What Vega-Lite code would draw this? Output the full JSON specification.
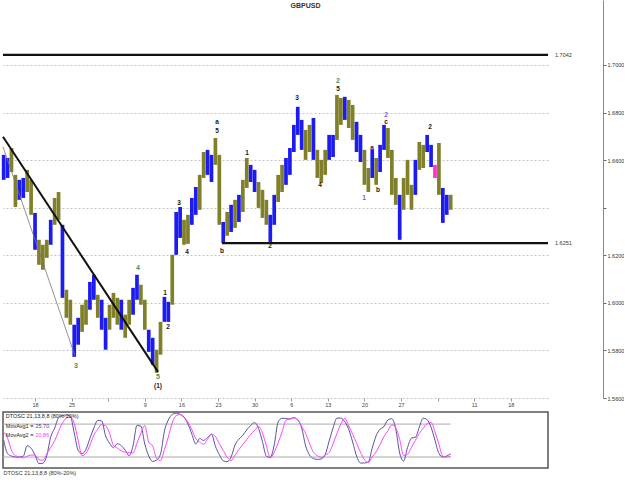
{
"$schema":"https://vega.github.io/schema/vega-lite/v6.json",
"padding":0,
"background":"white",
"config":{"font":"Liberation Sans","view":{"stroke":null}},
"spacing":2,
"datasets":{
"bars":[
{"t":"2009-09-12T00:00Z","hi":1.6622,"lo":1.6517,"phase":"up","m1":50.9,"m2":65.5},
{"t":"2009-09-12T18:00Z","hi":1.6609,"lo":1.6525,"phase":"up","m1":26.2,"m2":54.5},
{"t":"2009-09-13T12:00Z","hi":1.6651,"lo":1.6550,"phase":"down","m1":21.8,"m2":32.2},
{"t":"2009-09-14T06:00Z","hi":1.6538,"lo":1.6403,"phase":"down","m1":20,"m2":22.4},
{"t":"2009-09-15T00:00Z","hi":1.6517,"lo":1.6433,"phase":"up","m1":20,"m2":20.2},
{"t":"2009-09-15T18:00Z","hi":1.6525,"lo":1.6441,"phase":"up","m1":21.5,"m2":18.4},
{"t":"2009-09-16T12:00Z","hi":1.6559,"lo":1.6466,"phase":"down","m1":40.5,"m2":21.5},
{"t":"2009-09-17T06:00Z","hi":1.6517,"lo":1.6370,"phase":"down","m1":36,"m2":23.6},
{"t":"2009-09-18T00:00Z","hi":1.6378,"lo":1.6223,"phase":"up","m1":23.6,"m2":23.6},
{"t":"2009-09-18T18:00Z","hi":1.6265,"lo":1.6160,"phase":"down","m1":8,"m2":15.3},
{"t":"2009-09-19T12:00Z","hi":1.6244,"lo":1.6139,"phase":"down","m1":8.7,"m2":14.2},
{"t":"2009-09-20T06:00Z","hi":1.6265,"lo":1.6189,"phase":"down","m1":22.5,"m2":25.5},
{"t":"2009-09-21T00:00Z","hi":1.6349,"lo":1.6244,"phase":"up","m1":56.7,"m2":37.5},
{"t":"2009-09-21T18:00Z","hi":1.6441,"lo":1.6328,"phase":"down","m1":72.4,"m2":49.6},
{"t":"2009-09-22T12:00Z","hi":1.6466,"lo":1.6349,"phase":"down","m1":91.5,"m2":66.7},
{"t":"2009-09-23T06:00Z","hi":1.6328,"lo":1.6021,"phase":"up","m1":95.6,"m2":81.8},
{"t":"2009-09-24T00:00Z","hi":1.6055,"lo":1.5937,"phase":"down","m1":96.4,"m2":91.1},
{"t":"2009-09-24T18:00Z","hi":1.6013,"lo":1.5908,"phase":"down","m1":94.5,"m2":92.7},
{"t":"2009-09-25T12:00Z","hi":1.5908,"lo":1.5773,"phase":"up","m1":63.6,"m2":81.1},
{"t":"2009-09-26T06:00Z","hi":1.5937,"lo":1.5824,"phase":"up","m1":32.2,"m2":50},
{"t":"2009-09-27T00:00Z","hi":1.5992,"lo":1.5878,"phase":"down","m1":26,"m2":22.5},
{"t":"2009-09-27T18:00Z","hi":1.6013,"lo":1.5908,"phase":"down","m1":34.2,"m2":26.9},
{"t":"2009-09-28T12:00Z","hi":1.6088,"lo":1.5971,"phase":"up","m1":54,"m2":41.6},
{"t":"2009-09-29T06:00Z","hi":1.6118,"lo":1.6013,"phase":"up","m1":72.9,"m2":60},
{"t":"2009-09-30T00:00Z","hi":1.6034,"lo":1.5937,"phase":"down","m1":86.7,"m2":70.9},
{"t":"2009-09-30T18:00Z","hi":1.6013,"lo":1.5887,"phase":"up","m1":85.8,"m2":79.1},
{"t":"2009-10-01T12:00Z","hi":1.5937,"lo":1.5803,"phase":"up","m1":58.2,"m2":77.1},
{"t":"2009-10-02T06:00Z","hi":1.5992,"lo":1.5887,"phase":"down","m1":45.5,"m2":63.5},
{"t":"2009-10-03T00:00Z","hi":1.6042,"lo":1.5937,"phase":"down","m1":37.1,"m2":41.3},
{"t":"2009-10-03T18:00Z","hi":1.6021,"lo":1.5908,"phase":"down","m1":44.2,"m2":36.4},
{"t":"2009-10-04T12:00Z","hi":1.6013,"lo":1.5887,"phase":"up","m1":40.7,"m2":31.3},
{"t":"2009-10-05T06:00Z","hi":1.5950,"lo":1.5853,"phase":"down","m1":32.5,"m2":28.7},
{"t":"2009-10-06T00:00Z","hi":1.6013,"lo":1.5908,"phase":"down","m1":22.4,"m2":28},
{"t":"2009-10-06T18:00Z","hi":1.6063,"lo":1.5950,"phase":"up","m1":40.7,"m2":27.3},
{"t":"2009-10-07T12:00Z","hi":1.6118,"lo":1.6013,"phase":"up","m1":77.6,"m2":45.5},
{"t":"2009-10-08T06:00Z","hi":1.6076,"lo":1.5992,"phase":"down","m1":76.2,"m2":63.3},
{"t":"2009-10-09T00:00Z","hi":1.6013,"lo":1.5887,"phase":"down","m1":43.6,"m2":77.5},
{"t":"2009-10-09T18:00Z","hi":1.5887,"lo":1.5794,"phase":"up","m1":22,"m2":46.9},
{"t":"2009-10-10T12:00Z","hi":1.5853,"lo":1.5740,"phase":"up","m1":12,"m2":40.4},
{"t":"2009-10-11T06:00Z","hi":1.5803,"lo":1.5706,"phase":"down","m1":14.5,"m2":17.3},
{"t":"2009-10-12T00:00Z","hi":1.5920,"lo":1.5782,"phase":"down","m1":25.1,"m2":13.5},
{"t":"2009-10-12T18:00Z","hi":1.6025,"lo":1.5920,"phase":"up","m1":67.3,"m2":33.6},
{"t":"2009-10-13T12:00Z","hi":1.6004,"lo":1.5920,"phase":"up","m1":87.5,"m2":56.7},
{"t":"2009-10-14T06:00Z","hi":1.6202,"lo":1.5992,"phase":"down","m1":97.6,"m2":82},
{"t":"2009-10-15T00:00Z","hi":1.6382,"lo":1.6202,"phase":"up","m1":100,"m2":95.5},
{"t":"2009-10-15T18:00Z","hi":1.6403,"lo":1.6273,"phase":"up","m1":97.8,"m2":97.3},
{"t":"2009-10-16T12:00Z","hi":1.6349,"lo":1.6244,"phase":"down","m1":92.9,"m2":92.2},
{"t":"2009-10-17T06:00Z","hi":1.6370,"lo":1.6248,"phase":"down","m1":80.2,"m2":83.5},
{"t":"2009-10-18T00:00Z","hi":1.6441,"lo":1.6328,"phase":"up","m1":61.6,"m2":69.6},
{"t":"2009-10-18T18:00Z","hi":1.6487,"lo":1.6370,"phase":"up","m1":43.8,"m2":53.3},
{"t":"2009-10-19T12:00Z","hi":1.6538,"lo":1.6391,"phase":"down","m1":53.8,"m2":47.5},
{"t":"2009-10-20T06:00Z","hi":1.6634,"lo":1.6525,"phase":"down","m1":50.2,"m2":43.3},
{"t":"2009-10-21T00:00Z","hi":1.6643,"lo":1.6538,"phase":"up","m1":55.5,"m2":52.4},
{"t":"2009-10-21T18:00Z","hi":1.6622,"lo":1.6508,"phase":"up","m1":61.5,"m2":61.6},
{"t":"2009-10-22T12:00Z","hi":1.6693,"lo":1.6580,"phase":"down","m1":39.6,"m2":57.3},
{"t":"2009-10-23T06:00Z","hi":1.6622,"lo":1.6328,"phase":"down","m1":24.4,"m2":44.2},
{"t":"2009-10-24T00:00Z","hi":1.6340,"lo":1.6252,"phase":"up","m1":13.1,"m2":32},
{"t":"2009-10-24T18:00Z","hi":1.6382,"lo":1.6282,"phase":"down","m1":11.5,"m2":19.8},
{"t":"2009-10-25T12:00Z","hi":1.6412,"lo":1.6298,"phase":"up","m1":20,"m2":13.5},
{"t":"2009-10-26T06:00Z","hi":1.6433,"lo":1.6315,"phase":"down","m1":41.8,"m2":23.6},
{"t":"2009-10-27T00:00Z","hi":1.6454,"lo":1.6340,"phase":"up","m1":52.5,"m2":33.6},
{"t":"2009-10-27T18:00Z","hi":1.6517,"lo":1.6382,"phase":"down","m1":59.6,"m2":42.9},
{"t":"2009-10-28T12:00Z","hi":1.6609,"lo":1.6483,"phase":"down","m1":69.5,"m2":52.2},
{"t":"2009-10-29T06:00Z","hi":1.6580,"lo":1.6508,"phase":"up","m1":77.5,"m2":61.1},
{"t":"2009-10-30T00:00Z","hi":1.6559,"lo":1.6466,"phase":"up","m1":82.7,"m2":68.4},
{"t":"2009-10-30T18:00Z","hi":1.6508,"lo":1.6399,"phase":"down","m1":72.2,"m2":75.5},
{"t":"2009-10-31T12:00Z","hi":1.6475,"lo":1.6357,"phase":"down","m1":48,"m2":63.6},
{"t":"2009-11-01T06:00Z","hi":1.6433,"lo":1.6328,"phase":"down","m1":21.3,"m2":40.2},
{"t":"2009-11-02T00:00Z","hi":1.6370,"lo":1.6256,"phase":"up","m1":19.3,"m2":18.4},
{"t":"2009-11-02T18:00Z","hi":1.6454,"lo":1.6328,"phase":"up","m1":42.2,"m2":28.7},
{"t":"2009-11-03T12:00Z","hi":1.6538,"lo":1.6424,"phase":"down","m1":83.8,"m2":46},
{"t":"2009-11-04T06:00Z","hi":1.6580,"lo":1.6466,"phase":"down","m1":90.7,"m2":65.5},
{"t":"2009-11-05T00:00Z","hi":1.6609,"lo":1.6496,"phase":"up","m1":90,"m2":86.7},
{"t":"2009-11-05T18:00Z","hi":1.6651,"lo":1.6538,"phase":"up","m1":89.1,"m2":89.5},
{"t":"2009-11-06T12:00Z","hi":1.6748,"lo":1.6634,"phase":"up","m1":91.5,"m2":91.5},
{"t":"2009-11-07T06:00Z","hi":1.6824,"lo":1.6706,"phase":"up","m1":87.8,"m2":87.6},
{"t":"2009-11-08T00:00Z","hi":1.6769,"lo":1.6643,"phase":"up","m1":73.1,"m2":75.8},
{"t":"2009-11-08T18:00Z","hi":1.6727,"lo":1.6601,"phase":"down","m1":40.5,"m2":63.1},
{"t":"2009-11-09T12:00Z","hi":1.6748,"lo":1.6634,"phase":"down","m1":23.6,"m2":44.9},
{"t":"2009-11-10T06:00Z","hi":1.6777,"lo":1.6601,"phase":"up","m1":17.3,"m2":28.5},
{"t":"2009-11-11T00:00Z","hi":1.6643,"lo":1.6525,"phase":"down","m1":15.6,"m2":22.4},
{"t":"2009-11-11T18:00Z","hi":1.6601,"lo":1.6504,"phase":"down","m1":16.7,"m2":19.5},
{"t":"2009-11-12T12:00Z","hi":1.6643,"lo":1.6538,"phase":"down","m1":24.2,"m2":23.6},
{"t":"2009-11-13T06:00Z","hi":1.6706,"lo":1.6601,"phase":"up","m1":48.9,"m2":28.2},
{"t":"2009-11-14T00:00Z","hi":1.6706,"lo":1.6613,"phase":"up","m1":72.7,"m2":43.8},
{"t":"2009-11-14T18:00Z","hi":1.6874,"lo":1.6685,"phase":"down","m1":90.9,"m2":62.9},
{"t":"2009-11-15T12:00Z","hi":1.6861,"lo":1.6748,"phase":"down","m1":90.9,"m2":80.2},
{"t":"2009-11-16T06:00Z","hi":1.6866,"lo":1.6769,"phase":"up","m1":84.4,"m2":90.4},
{"t":"2009-11-17T00:00Z","hi":1.6853,"lo":1.6735,"phase":"down","m1":70.2,"m2":76.5},
{"t":"2009-11-17T18:00Z","hi":1.6832,"lo":1.6685,"phase":"down","m1":47.3,"m2":61.6},
{"t":"2009-11-18T12:00Z","hi":1.6761,"lo":1.6634,"phase":"up","m1":21.8,"m2":45.3},
{"t":"2009-11-19T06:00Z","hi":1.6706,"lo":1.6592,"phase":"up","m1":9.1,"m2":28.9},
{"t":"2009-11-20T00:00Z","hi":1.6643,"lo":1.6496,"phase":"down","m1":9.1,"m2":15.6},
{"t":"2009-11-20T18:00Z","hi":1.6567,"lo":1.6466,"phase":"down","m1":11.1,"m2":9.8},
{"t":"2009-11-21T12:00Z","hi":1.6643,"lo":1.6525,"phase":"up","m1":36.5,"m2":20.4},
{"t":"2009-11-22T06:00Z","hi":1.6609,"lo":1.6496,"phase":"down","m1":58.7,"m2":29.5},
{"t":"2009-11-23T00:00Z","hi":1.6664,"lo":1.6550,"phase":"up","m1":70.5,"m2":42.9},
{"t":"2009-11-23T18:00Z","hi":1.6748,"lo":1.6643,"phase":"up","m1":75.6,"m2":57.3},
{"t":"2009-11-24T12:00Z","hi":1.6735,"lo":1.6609,"phase":"down","m1":87.6,"m2":68},
{"t":"2009-11-25T06:00Z","hi":1.6643,"lo":1.6454,"phase":"down","m1":89.8,"m2":78.5},
{"t":"2009-11-26T00:00Z","hi":1.6525,"lo":1.6412,"phase":"down","m1":70.9,"m2":72.9},
{"t":"2009-11-26T18:00Z","hi":1.6454,"lo":1.6265,"phase":"up","m1":26.9,"m2":52},
{"t":"2009-11-27T12:00Z","hi":1.6525,"lo":1.6391,"phase":"down","m1":12.7,"m2":22.9},
{"t":"2009-11-28T06:00Z","hi":1.6601,"lo":1.6454,"phase":"down","m1":37.3,"m2":24.9},
{"t":"2009-11-29T00:00Z","hi":1.6496,"lo":1.6391,"phase":"down","m1":54.5,"m2":37.6},
{"t":"2009-11-29T18:00Z","hi":1.6601,"lo":1.6454,"phase":"up","m1":56,"m2":50.4},
{"t":"2009-11-30T12:00Z","hi":1.6676,"lo":1.6559,"phase":"down","m1":74.4,"m2":62.9},
{"t":"2009-12-01T06:00Z","hi":1.6664,"lo":1.6567,"phase":"down","m1":90.7,"m2":72.4},
{"t":"2009-12-02T00:00Z","hi":1.6706,"lo":1.6634,"phase":"up","m1":88,"m2":80.9},
{"t":"2009-12-02T18:00Z","hi":1.6664,"lo":1.6571,"phase":"up","m1":74.2,"m2":82.9},
{"t":"2009-12-03T12:00Z","hi":1.6580,"lo":1.6525,"phase":"signal","m1":50.5,"m2":65.8},
{"t":"2009-12-04T06:00Z","hi":1.6672,"lo":1.6454,"phase":"down","m1":26.5,"m2":43.3},
{"t":"2009-12-05T00:00Z","hi":1.6483,"lo":1.6336,"phase":"up","m1":20,"m2":21.1},
{"t":"2009-12-05T18:00Z","hi":1.6454,"lo":1.6370,"phase":"up","m1":21.8,"m2":20},
{"t":"2009-12-06T12:00Z","hi":1.6454,"lo":1.6391,"phase":"down","m1":25.7,"m2":20.86}
],
"waves":[
{"t":"2009-09-25T20:00Z","p":1.5735,"txt":"3","deg":"primary"},
{"t":"2009-10-07T17:00Z","p":1.6147,"txt":"4","deg":"primary"},
{"t":"2009-10-11T12:30Z","p":1.5689,"txt":"5","deg":"primary"},
{"t":"2009-10-11T12:30Z","p":1.5651,"txt":"(1)","deg":"minor"},
{"t":"2009-10-12T20:40Z","p":1.6042,"txt":"1","deg":"minor"},
{"t":"2009-10-13T10:30Z","p":1.5899,"txt":"2","deg":"minor"},
{"t":"2009-10-15T13:00Z","p":1.6420,"txt":"3","deg":"minor"},
{"t":"2009-10-17T01:40Z","p":1.6214,"txt":"4","deg":"minor"},
{"t":"2009-10-22T19:30Z","p":1.6761,"txt":"a","deg":"minor"},
{"t":"2009-10-22T19:30Z","p":1.6723,"txt":"5","deg":"minor"},
{"t":"2009-10-23T18:15Z","p":1.6219,"txt":"b","deg":"minor"},
{"t":"2009-10-28T13:10Z","p":1.6630,"txt":"1","deg":"minor"},
{"t":"2009-11-01T22:50Z","p":1.6240,"txt":"2","deg":"minor"},
{"t":"2009-11-07T02:40Z","p":1.6861,"txt":"3","deg":"minor"},
{"t":"2009-11-11T12:15Z","p":1.6496,"txt":"4","deg":"minor"},
{"t":"2009-11-14T22:50Z","p":1.6899,"txt":"5","deg":"minor"},
{"t":"2009-11-14T22:50Z","p":1.6933,"txt":"2","deg":"primary"},
{"t":"2009-11-19T22:00Z","p":1.6441,"txt":"1","deg":"alternate"},
{"t":"2009-11-21T10:50Z","p":1.6651,"txt":"a","deg":"minor"},
{"t":"2009-11-22T14:25Z","p":1.6475,"txt":"b","deg":"minor"},
{"t":"2009-11-24T03:10Z","p":1.6761,"txt":"c","deg":"minor"},
{"t":"2009-11-24T03:10Z","p":1.6790,"txt":"2","deg":"alternate"},
{"t":"2009-12-02T13:10Z","p":1.6740,"txt":"2","deg":"minor"}
],
"trend":[
{"line":"trendline","t1":"2009-09-11T21:00Z","p1":1.6698,"t2":"2009-10-11T12:30Z","p2":1.5710},
{"line":"channel","t1":"2009-09-11T21:00Z","p1":1.6656,"t2":"2009-09-25T15:30Z","p2":1.5777}
],
"levels":[
{"t1":"2009-09-11T21:00Z","t2":"2009-12-25T02:45Z","p":1.7042,"label":"1.7042"},
{"t1":"2009-10-23T18:00Z","t2":"2009-12-25T02:45Z","p":1.6251,"label":"1.6251"}
],
"oscBands":[
{"t1":"2009-09-11T21:00Z","t2":"2009-12-06T12:00Z","lvl":80},
{"t1":"2009-09-11T21:00Z","t2":"2009-12-06T12:00Z","lvl":20}
],
"oscLegend":[
{"t":"2009-09-12T10:00Z","v":95,"txt":"DTOSC 21,13,8,8 (80%-20%)","role":"name"},
{"t":"2009-09-12T10:00Z","v":77,"txt":"MovAvg1 =","role":"name"},
{"t":"2009-09-18T02:00Z","v":77,"txt":"25.70","role":"m1"},
{"t":"2009-09-12T10:00Z","v":60,"txt":"MovAvg2 =","role":"name"},
{"t":"2009-09-18T02:00Z","v":60,"txt":"20.86","role":"m2"}
]
},
"vconcat":[
{
"width":545,
"height":398,
"title":{"text":"GBPUSD","fontSize":7,"fontWeight":"bold","color":"#333","offset":-9,"dx":30},
"layer":[
{"data":{"name":"bars"},
 "mark":{"type":"rule","strokeWidth":3.7},
 "encoding":{
  "x":{"field":"t","type":"temporal","scale":{"type":"utc","domain":[1252702800000,1261709100000]},
   "axis":{"orient":"bottom","title":null,"domain":false,"grid":false,"tickSize":3,"tickColor":"#999","labelFontSize":5.5,"labelColor":"#444","labelPadding":1,
    "values":[1253232000000,1253836800000,1254441600000,1255046400000,1255651200000,1256256000000,1256860800000,1257465600000,1258070400000,1258675200000,1259280000000,1259884800000,1260489600000,1261094400000],
    "labelExpr":"(utcdate(datum.value) == 2 || utcdate(datum.value) == 4) ? '' : utcFormat(datum.value, '%-d')"}},
  "y":{"field":"hi","type":"quantitative","scale":{"domain":[1.56,1.7273],"zero":false,"nice":false},
   "axis":{"orient":"right","offset":55,"title":null,"values":[1.56,1.58,1.6,1.62,1.64,1.66,1.68,1.7],"format":".4f",
    "labelExpr":"abs(datum.value - 1.64) < 0.0001 ? '' : datum.label",
    "labelFontSize":5.5,"labelColor":"#333","labelPadding":1,"tickSize":3,"tickColor":"#666","domainColor":"#888",
    "grid":true,"gridDash":[2,2],"gridColor":"#c4c4c4","gridWidth":1}},
  "y2":{"field":"lo"},
  "color":{"field":"phase","type":"nominal","scale":{"domain":["up","down","signal"],"range":["#1c1cf2","#80802a","#ff33cc"]},"legend":null}
 }},
{"data":{"name":"trend"},
 "transform":[{"filter":"datum.line == 'channel'"}],
 "mark":{"type":"rule","strokeWidth":0.8,"color":"#777"},
 "encoding":{"x":{"field":"t1","type":"temporal"},"x2":{"field":"t2"},"y":{"field":"p1","type":"quantitative"},"y2":{"field":"p2"}}},
{"data":{"name":"trend"},
 "transform":[{"filter":"datum.line == 'trendline'"}],
 "mark":{"type":"rule","strokeWidth":2,"color":"#111"},
 "encoding":{"x":{"field":"t1","type":"temporal"},"x2":{"field":"t2"},"y":{"field":"p1","type":"quantitative"},"y2":{"field":"p2"}}},
{"data":{"name":"levels"},
 "mark":{"type":"rule","strokeWidth":2.2,"color":"#111"},
 "encoding":{"x":{"field":"t1","type":"temporal"},"x2":{"field":"t2"},"y":{"field":"p","type":"quantitative"}}},
{"data":{"name":"levels"},
 "mark":{"type":"text","align":"left","baseline":"middle","dx":7,"fontSize":5.5,"color":"#333"},
 "encoding":{"x":{"field":"t2","type":"temporal"},"y":{"field":"p","type":"quantitative"},"text":{"field":"label"}}},
{"data":{"name":"waves"},
 "transform":[{"filter":"datum.deg == 'minor'"}],
 "mark":{"type":"text","align":"center","baseline":"middle","fontSize":6.5,"fontWeight":"bold","color":"#1a1a1a"},
 "encoding":{"x":{"field":"t","type":"temporal"},"y":{"field":"p","type":"quantitative"},"text":{"field":"txt"}}},
{"data":{"name":"waves"},
 "transform":[{"filter":"datum.deg == 'primary'"}],
 "mark":{"type":"text","align":"center","baseline":"middle","fontSize":7,"fontWeight":"bold","color":"#3a9460"},
 "encoding":{"x":{"field":"t","type":"temporal"},"y":{"field":"p","type":"quantitative"},"text":{"field":"txt"}}},
{"data":{"name":"waves"},
 "transform":[{"filter":"datum.deg == 'alternate'"}],
 "mark":{"type":"text","align":"center","baseline":"middle","fontSize":6.5,"fontWeight":"bold","color":"#6b6bd6"},
 "encoding":{"x":{"field":"t","type":"temporal"},"y":{"field":"p","type":"quantitative"},"text":{"field":"txt"}}}
]
},
{
"width":545,
"height":56,
"view":{"stroke":"#555","strokeWidth":1.5},
"layer":[
{"data":{"name":"oscBands"},
 "mark":{"type":"rule","color":"#aaaaaa","strokeWidth":1},
 "encoding":{"y":{"field":"lvl","type":"quantitative","scale":{"domain":[0,102],"nice":false,"zero":false},"axis":null},
  "x":{"field":"t1","type":"temporal","scale":{"type":"utc","domain":[1252702800000,1261709100000]},
   "axis":{"orient":"bottom","labels":false,"ticks":false,"domain":false,"grid":false,"title":"DTOSC 21,13,8,8 (80%-20%)","titleAnchor":"start","titleFontSize":5.5,"titleFontWeight":"normal","titleColor":"#333","titlePadding":2}},
  "x2":{"field":"t2"}}},
{"data":{"name":"bars"},
 "mark":{"type":"line","strokeWidth":1,"interpolate":"monotone","color":"#55559c"},
 "encoding":{"x":{"field":"t","type":"temporal"},"y":{"field":"m1","type":"quantitative"}}},
{"data":{"name":"bars"},
 "mark":{"type":"line","strokeWidth":1,"interpolate":"monotone","color":"#ff44ff"},
 "encoding":{"x":{"field":"t","type":"temporal"},"y":{"field":"m2","type":"quantitative"}}},
{"data":{"name":"oscLegend"},
 "transform":[{"filter":"datum.role == 'name'"}],
 "mark":{"type":"text","align":"left","baseline":"middle","fontSize":5.5,"color":"#222222"},
 "encoding":{"x":{"field":"t","type":"temporal"},"y":{"field":"v","type":"quantitative"},"text":{"field":"txt"}}},
{"data":{"name":"oscLegend"},
 "transform":[{"filter":"datum.role == 'm1'"}],
 "mark":{"type":"text","align":"left","baseline":"middle","fontSize":5.5,"color":"#3f3fa0"},
 "encoding":{"x":{"field":"t","type":"temporal"},"y":{"field":"v","type":"quantitative"},"text":{"field":"txt"}}},
{"data":{"name":"oscLegend"},
 "transform":[{"filter":"datum.role == 'm2'"}],
 "mark":{"type":"text","align":"left","baseline":"middle","fontSize":5.5,"color":"#ff33ff"},
 "encoding":{"x":{"field":"t","type":"temporal"},"y":{"field":"v","type":"quantitative"},"text":{"field":"txt"}}}
]
}
]
}
